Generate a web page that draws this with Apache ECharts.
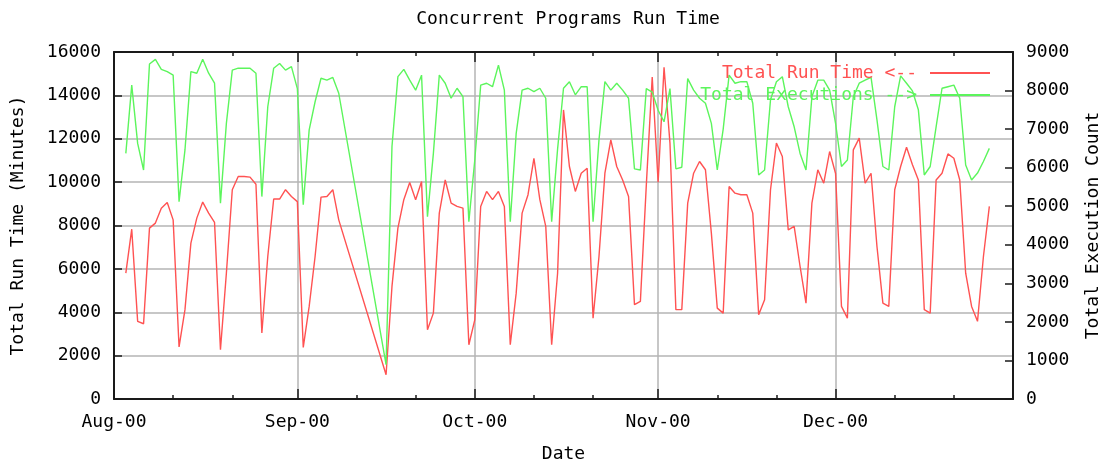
<!DOCTYPE html>
<html>
<head>
<meta charset="utf-8">
<script src="https://cdn.jsdelivr.net/npm/echarts@6/dist/echarts.min.js"></script>
<style>
html,body{margin:0;padding:0;background:#fff;}
#chart{width:1114px;height:464px;}
</style>
</head>
<body>
<div id="chart"></div>
<script>
// ---- data ----
var dates = [
'2000-08-03','2000-08-04','2000-08-05','2000-08-06','2000-08-07','2000-08-08','2000-08-09','2000-08-10','2000-08-11','2000-08-12',
'2000-08-13','2000-08-14','2000-08-15','2000-08-16','2000-08-17','2000-08-18','2000-08-19','2000-08-20','2000-08-21','2000-08-22',
'2000-08-23','2000-08-24','2000-08-25','2000-08-26','2000-08-27','2000-08-28','2000-08-29','2000-08-30','2000-08-31','2000-09-01',
'2000-09-02','2000-09-03','2000-09-04','2000-09-05','2000-09-06','2000-09-07','2000-09-08','2000-09-16','2000-09-17','2000-09-18',
'2000-09-19','2000-09-20','2000-09-21','2000-09-22','2000-09-23','2000-09-24','2000-09-25','2000-09-26','2000-09-27','2000-09-28',
'2000-09-29','2000-09-30','2000-10-01','2000-10-02','2000-10-03','2000-10-04','2000-10-05','2000-10-06','2000-10-07','2000-10-08',
'2000-10-09','2000-10-10','2000-10-11','2000-10-12','2000-10-13','2000-10-14','2000-10-15','2000-10-16','2000-10-17','2000-10-18',
'2000-10-19','2000-10-20','2000-10-21','2000-10-22','2000-10-23','2000-10-24','2000-10-25','2000-10-26','2000-10-27','2000-10-28',
'2000-10-29','2000-10-30','2000-10-31','2000-11-01','2000-11-02','2000-11-03','2000-11-04','2000-11-05','2000-11-06','2000-11-07',
'2000-11-08','2000-11-09','2000-11-10','2000-11-11','2000-11-12','2000-11-13','2000-11-14','2000-11-15','2000-11-16','2000-11-17',
'2000-11-18','2000-11-19','2000-11-20','2000-11-21','2000-11-22','2000-11-23','2000-11-24','2000-11-25','2000-11-26','2000-11-27',
'2000-11-28','2000-11-29','2000-11-30','2000-12-01','2000-12-02','2000-12-03','2000-12-04','2000-12-05','2000-12-06','2000-12-07',
'2000-12-08','2000-12-09','2000-12-10','2000-12-11','2000-12-12','2000-12-13','2000-12-14','2000-12-15','2000-12-16','2000-12-17',
'2000-12-18','2000-12-19','2000-12-20','2000-12-21','2000-12-22','2000-12-23','2000-12-24','2000-12-25','2000-12-26','2000-12-27'
];
var runTime = [
5800,7830,3580,3470,7880,8110,8800,9060,8260,2400,
4120,7190,8340,9080,8570,8140,2270,5800,9650,10260,
10260,10230,9900,3040,6570,9220,9220,9650,9340,9100,
2380,4270,6570,9310,9340,9650,8260,1120,5190,7880,
9190,9980,9190,10030,3190,3960,8570,10100,9030,8880,
8800,2500,3650,8880,9570,9190,9570,8880,2500,4880,
8570,9420,11100,9190,7960,2500,5800,13330,10720,9570,
10410,10640,3730,6570,10410,11950,10720,10100,9340,4350,
4500,9850,14850,10000,15300,11800,4120,4120,9030,10410,
10950,10570,7650,4190,3960,9800,9490,9420,9420,8570,
3890,4580,9650,11800,11180,7800,7960,6110,4420,9030,
10570,9950,11410,10400,4270,3730,11490,12030,9950,10410,
7030,4420,4270,9650,10720,11610,10800,10100,4120,3960,
10100,10410,11300,11100,10100,5800,4270,3580,6570,8880
];
var executions = [
6370,8140,6630,5940,8690,8810,8550,8490,8400,5120,
6460,8490,8450,8810,8450,8190,5080,7150,8530,8580,
8580,8580,8450,5250,7580,8580,8700,8530,8620,8050,
5040,6980,7710,8320,8270,8340,7930,890,6550,8360,
8550,8270,8010,8400,4730,6370,8400,8190,7800,8060,
7840,4600,6200,8140,8190,8100,8660,8010,4600,6890,
8010,8060,7970,8060,7800,4600,6480,8060,8230,7890,
8100,8100,4600,6720,8230,8010,8190,8010,7800,5970,
5940,8050,7960,7490,7190,8050,5970,6010,8310,8010,
7800,7670,7150,5940,7000,8400,8190,8230,8230,7670,
5810,5940,7760,8230,8360,7580,7060,6370,5940,7840,
8270,8270,8010,7150,6030,6200,7840,8190,8270,8340,
7240,6030,5940,7580,8380,8190,7990,7500,5810,6030,
7060,8060,8100,8140,7800,6070,5680,5860,6160,6500
];
var axisStart = '2000-08-01';
var axisEnd = '2000-12-31';
var monthLabels = {'08':'Aug-00','09':'Sep-00','10':'Oct-00','11':'Nov-00','12':'Dec-00'};
var leftTicks = {min:0, max:16000, step:2000};
var rightTicks = {min:0, max:9000, step:1000};
var seriesNames = ['Total Run Time <--', 'Total Executions -->'];

// ---- categories: every day of the axis range ----
var categories = [];
(function(){
  var p0 = axisStart.split('-'), p1 = axisEnd.split('-');
  var t = Date.UTC(+p0[0], +p0[1]-1, +p0[2]), end = Date.UTC(+p1[0], +p1[1]-1, +p1[2]);
  while (t <= end) {
    var d = new Date(t);
    var mm = ('0' + (d.getUTCMonth()+1)).slice(-2), dd = ('0' + d.getUTCDate()).slice(-2);
    categories.push(d.getUTCFullYear() + '-' + mm + '-' + dd);
    t += 86400000;
  }
})();
function dayOf(v){ return parseInt(v.slice(8,10),10); }
function isMajor(i, v){ return dayOf(v) === 1; }
function isMinor(i, v){ var d = dayOf(v); return d === 11 || d === 21; }
function plain(v){ return String(v); }

var FONT = 'DejaVu Sans Mono';
var FS = 18;
var RED = '#ff5252', GREEN = '#5cf55c';
var FRAME = '#1a1a1a', GRID = '#b4b4b4';

function xAx(pos, major, withLabels) {
  return {
    type: 'category', data: categories, boundaryGap: false, position: pos,
    axisLine: {show: major, onZero: false, lineStyle: {color: FRAME, width: 2}},
    axisTick: {show: true, inside: true, length: major ? 10 : 4,
      interval: major ? isMajor : isMinor, lineStyle: {color: FRAME, width: 1.5}},
    axisLabel: withLabels ? {show: true, interval: isMajor, margin: 14, color: '#000',
      fontFamily: FONT, fontSize: FS,
      formatter: function(v){ return monthLabels[v.slice(5,7)]; }} : {show: false},
    splitLine: (withLabels ? {show: true, interval: isMajor, lineStyle: {color: GRID, width: 1.5}} : {show: false}),
    name: withLabels ? 'Date' : '', nameLocation: 'middle', nameGap: 46,
    nameTextStyle: {fontFamily: FONT, fontSize: FS, color: '#000'}
  };
}

var chart = echarts.init(document.getElementById('chart'), null, {renderer: 'canvas'});
chart.setOption({
  animation: false,
  backgroundColor: '#fff',
  title: {
    text: 'Concurrent Programs Run Time', left: 563, top: 5, textAlign: 'center',
    textStyle: {fontFamily: FONT, fontSize: FS, fontWeight: 'normal', color: '#000'}
  },
  legend: {
    orient: 'vertical', right: 124, top: 64, align: 'right', padding: 0, itemGap: 4,
    itemWidth: 60, itemHeight: 2, icon: 'rect',
    data: [
      {name: seriesNames[0], textStyle: {color: RED}},
      {name: seriesNames[1], textStyle: {color: GREEN}}
    ],
    textStyle: {fontFamily: FONT, fontSize: FS, padding: [0, 8, 0, 0]}
  },
  grid: {left: 114, right: 101, top: 52, bottom: 65, containLabel: false, outerBoundsMode: 'none'},
  xAxis: [
    xAx('bottom', true, true),
    xAx('bottom', false, false),
    xAx('top', true, false),
    xAx('top', false, false)
  ],
  yAxis: [
    {
      type: 'value', position: 'left', min: leftTicks.min, max: leftTicks.max, interval: leftTicks.step,
      name: 'Total Run Time (Minutes)', nameLocation: 'middle', nameGap: 87, nameRotate: 90,
      nameTextStyle: {fontFamily: FONT, fontSize: FS, color: '#000'},
      axisLine: {show: true, lineStyle: {color: FRAME, width: 2}},
      axisTick: {show: true, inside: true, length: 8, lineStyle: {color: FRAME, width: 1.5}},
      axisLabel: {margin: 13, color: '#000', fontFamily: FONT, fontSize: FS, formatter: plain},
      splitLine: {show: true, lineStyle: {color: GRID, width: 1.5}}
    },
    {
      type: 'value', position: 'right', min: rightTicks.min, max: rightTicks.max, interval: rightTicks.step,
      name: 'Total Execution Count', nameLocation: 'middle', nameGap: 71, nameRotate: 90,
      nameTextStyle: {fontFamily: FONT, fontSize: FS, color: '#000'},
      axisLine: {show: true, lineStyle: {color: FRAME, width: 2}},
      axisTick: {show: true, inside: true, length: 8, lineStyle: {color: FRAME, width: 1.5}},
      axisLabel: {margin: 13, color: '#000', fontFamily: FONT, fontSize: FS, formatter: plain},
      splitLine: {show: false}
    }
  ],
  series: [
    {
      name: seriesNames[0], type: 'line', xAxisIndex: 0, yAxisIndex: 0, symbol: 'none',
      lineStyle: {color: RED, width: 1.4}, itemStyle: {color: RED},
      data: dates.map(function(d, i){ return [d, runTime[i]]; })
    },
    {
      name: seriesNames[1], type: 'line', xAxisIndex: 0, yAxisIndex: 1, symbol: 'none',
      lineStyle: {color: GREEN, width: 1.4}, itemStyle: {color: GREEN},
      data: dates.map(function(d, i){ return [d, executions[i]]; })
    }
  ]
});
</script>
</body>
</html>
